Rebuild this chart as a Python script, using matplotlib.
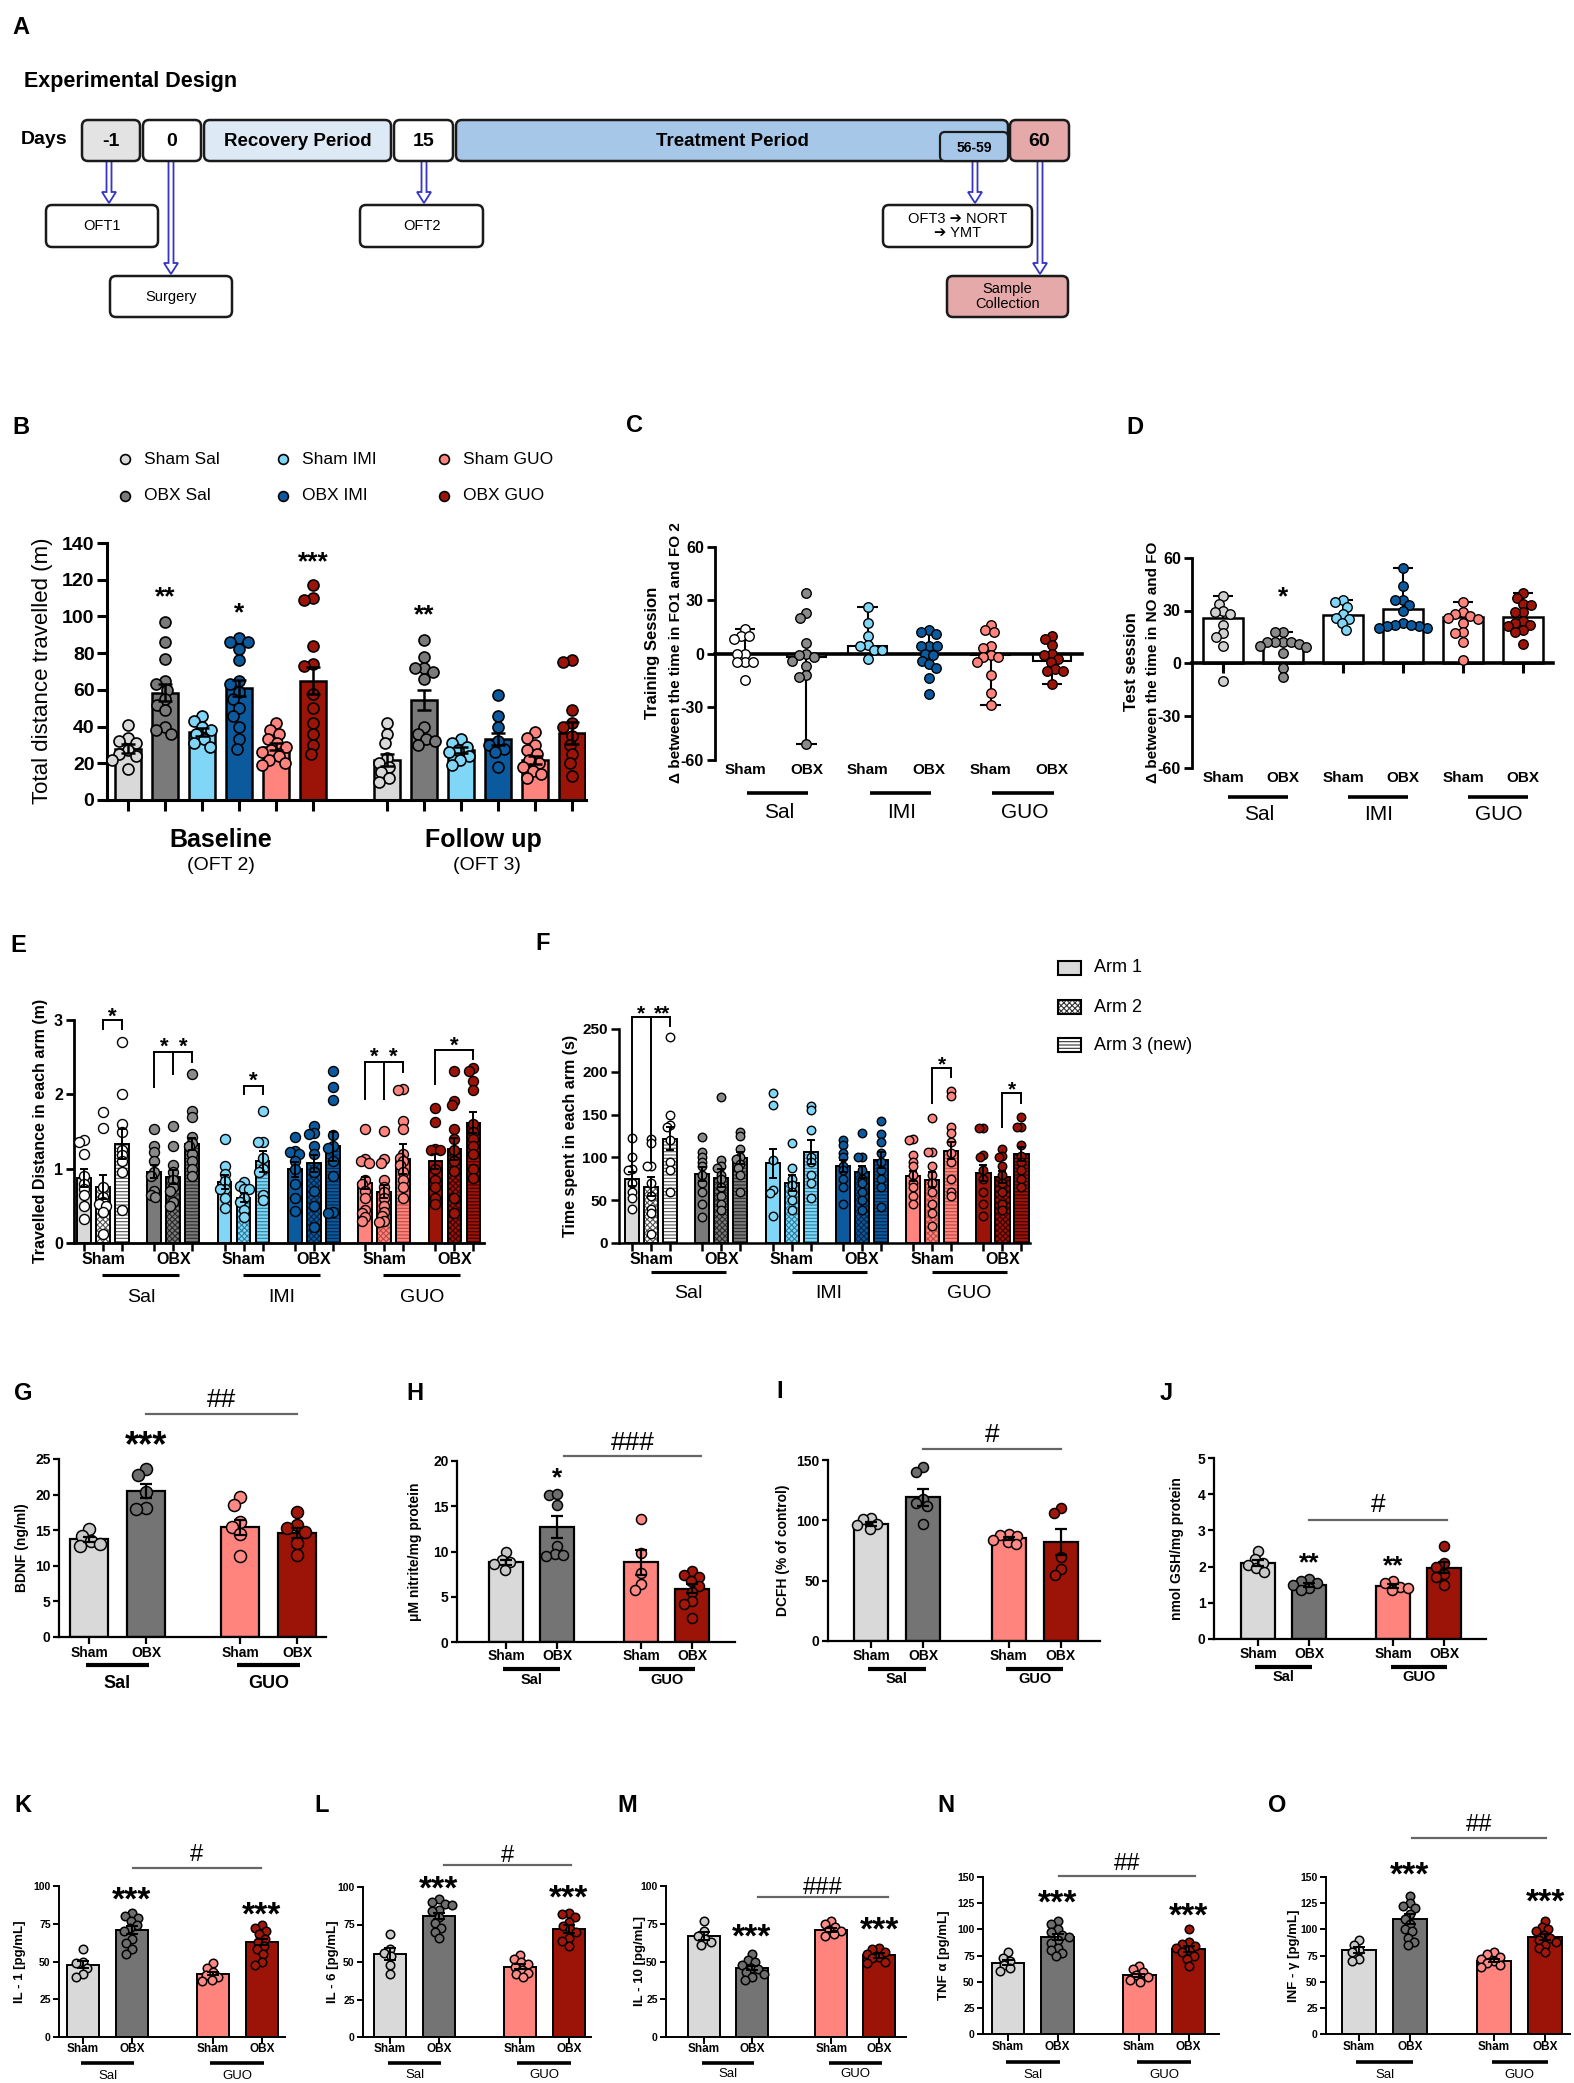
import numpy as np
import matplotlib
matplotlib.use("Agg")
import matplotlib.pyplot as plt
from matplotlib.patches import Rectangle, FancyBboxPatch, FancyArrow

W, H = 1574, 2083
SANS = ['Liberation Sans', 'DejaVu Sans']
NARROW = ['Liberation Sans Narrow', 'Liberation Sans', 'DejaVu Sans']
plt.rcParams['font.family'] = SANS
plt.rcParams['hatch.linewidth'] = 0.8

SHAM_SAL = '#d9d9d9'
OBX_SAL = '#7a7a7a'
SHAM_IMI = '#7fd6f7'
OBX_IMI = '#0b5a9e'
SHAM_GUO = '#ff847e'
OBX_GUO = '#9c1407'
GROUP_COLORS = [SHAM_SAL, OBX_SAL, SHAM_IMI, OBX_IMI, SHAM_GUO, OBX_GUO]

# ---------------- B: open field, total distance ----------------
b_groups = ['Sham Sal', 'OBX Sal', 'Sham IMI', 'OBX IMI', 'Sham GUO', 'OBX GUO']
b_means_base = [28, 58.5, 37, 61, 29, 65]
b_sems_base = [2.3, 4.5, 2.2, 4.5, 2.0, 7.5]
b_means_fu = [22, 54.5, 27, 33, 22, 36.5]
b_sems_fu = [3.3, 5.5, 1.6, 3.3, 2.2, 6.0]
b_pts_base = [
    [41, 34, 32, 31, 27, 25, 24, 22, 17],
    [97, 86, 77, 65, 63, 60, 55, 52, 49, 40, 38, 36],
    [46, 43, 40, 38, 36, 33, 31, 29],
    [88, 86, 86, 82, 76, 65, 63, 59, 55, 50, 46, 40, 33, 28],
    [42, 38, 36, 33, 31, 29, 27, 26, 24, 22, 20, 19],
    [117, 110, 109, 84, 74, 73, 58, 50, 42, 36, 30, 25],
]
b_pts_fu = [
    [42, 36, 31, 23, 20, 18, 15, 12, 10],
    [87, 78, 72, 72, 70, 66, 40, 36, 33, 32, 30],
    [33, 31, 29, 27, 26, 24, 22, 19],
    [57, 46, 40, 32, 30, 28, 26, 18],
    [37, 34, 30, 27, 25, 22, 20, 18, 16, 14, 12],
    [76, 75, 49, 42, 40, 35, 30, 25, 20, 13],
]
b_stars = [(1, '**', 115), (3, '*', 106), (5, '***', 134), (8, '**', 105)]

# ---------------- C: training session ----------------
c_median = [0, -2, 4.5, 0, -1, -4]
c_whisker = [14, -51, 26, 12, -29, -17]
c_pts = [
    [14, 10, 10, 8, 0, 0, -5, -5, -5, -15],
    [34, 23, 20, 6, 0, -1, -2, -4, -7, -12, -13, -51],
    [26, 17, 10, 5, 4, 2, 2, -3],
    [13, 12, 11, 4, 4, 4, 0, -1, -4, -6, -8, -14, -23],
    [16, 13, 12, 4, 3, -1, -2, -2, -5, -12, -22, -29],
    [10, 8, 5, 0, -1, -3, -5, -9, -10, -10, -17],
]

# ---------------- D: test session ----------------
d_median = [25.5, 11, 27.5, 31, 26.5, 26.5]
d_whisker = [38, 18, 36, 54, 35, 40]
d_pts = [
    [38, 34, 30, 29, 28, 22, 17, 15, 10, -10],
    [18, 18, 12, 12, 12, 12, 11, 10, 9, 6, -3, -8],
    [36, 35, 32, 28, 26, 25, 23, 19],
    [54, 44, 36, 36, 33, 30, 23, 22, 21, 20, 20, 21, 22],
    [35, 29, 28, 27, 26, 25, 23, 18, 17, 12, 2],
    [40, 37, 34, 33, 29, 29, 24, 23, 22, 21, 19, 18, 11],
]
d_stars = [(1, '*', 42)]

# ---------------- E: distance in each arm ----------------
e_means = [[0.88, 0.75, 1.33], [0.96, 0.89, 1.33], [0.82, 0.61, 1.10],
           [0.99, 1.07, 1.30], [0.81, 0.69, 1.13], [1.10, 1.26, 1.62]]
e_sems = [[0.12, 0.16, 0.20], [0.09, 0.09, 0.08], [0.10, 0.06, 0.14],
          [0.10, 0.12, 0.20], [0.08, 0.09, 0.20], [0.10, 0.15, 0.14]]
e_pts_sham_sal = [[1.38, 1.36, 1.2, 0.9, 0.8, 0.72, 0.65, 0.5, 0.32],
                  [1.76, 1.55, 0.75, 0.62, 0.55, 0.52, 0.5, 0.42, 0.12],
                  [2.7, 2.0, 1.6, 1.5, 1.25, 1.18, 1.1, 0.95, 0.45]]
e_pts_obx_sal = [[1.53, 1.3, 1.22, 1.1, 0.95, 0.9, 0.7, 0.65, 0.62],
                 [1.57, 1.3, 1.05, 0.95, 0.85, 0.75, 0.7, 0.55, 0.5],
                 [2.28, 1.78, 1.7, 1.43, 1.35, 1.3, 1.2, 1.1, 1.0, 0.9]]
e_pts_sham_imi = [[1.4, 1.03, 0.93, 0.83, 0.72, 0.72, 0.6, 0.47],
                  [0.82, 0.77, 0.73, 0.72, 0.6, 0.55, 0.45, 0.35],
                  [1.77, 1.36, 1.36, 1.15, 1.0, 0.95, 0.65, 0.58]]
e_pts_obx_imi = [[1.43, 1.24, 1.22, 1.2, 1.1, 1.0, 0.8, 0.6, 0.43],
                 [1.57, 1.48, 1.47, 1.3, 1.2, 0.95, 0.7, 0.5, 0.22],
                 [2.31, 2.1, 1.93, 1.45, 1.3, 1.28, 1.1, 0.9, 0.42, 0.41]]
e_pts_sham_guo = [[1.53, 1.13, 1.1, 1.08, 0.85, 0.8, 0.7, 0.6, 0.45, 0.4, 0.35, 0.3],
                  [1.51, 1.13, 1.08, 0.85, 0.75, 0.68, 0.6, 0.5, 0.42, 0.36, 0.3, 0.28],
                  [2.07, 2.06, 1.64, 1.54, 1.2, 1.15, 1.1, 1.05, 0.95, 0.85, 0.75, 0.6]]
e_pts_obx_guo = [[1.82, 1.63, 1.27, 1.25, 1.25, 1.0, 0.85, 0.75, 0.6, 0.53],
                 [2.32, 1.91, 1.85, 1.53, 1.4, 1.25, 1.1, 0.97, 0.6, 0.4],
                 [2.36, 2.32, 2.18, 2.06, 1.6, 1.5, 1.4, 1.3, 1.2, 1.0, 0.87]]
e_brackets = [([1, 2], [2.88, 2.88], 3.0),
              ([3.7, 4.7, 5.7], [2.1, 2.28, 2.44], 2.57),
              ([8.4, 9.4], [2.0, 2.0], 2.11),
              ([14.8, 15.8, 16.8], [1.94, 1.94, 2.3], 2.43),
              ([18.5, 20.5], [2.14, 2.48], 2.6)]
e_stars = [(1.5, '*', 3.14), (4.2, '*', 2.73), (5.2, '*', 2.73), (8.9, '*', 2.27),
           (15.3, '*', 2.6), (16.3, '*', 2.6), (19.5, '*', 2.74)]

# ---------------- F: time in each arm ----------------
f_means = [[75, 66, 122], [81, 76, 99], [93, 70, 106],
           [90, 83, 97], [78, 74, 108], [82, 77, 104]]
f_sems = [[8, 11, 13], [8, 10, 7], [17, 9, 14], [7, 7, 9], [6, 9, 10], [9, 7, 8]]
f_pts_sham_sal = [[123, 100, 86, 85, 70, 60, 52, 40],
                  [122, 117, 90, 90, 70, 55, 40, 35, 10],
                  [241, 149, 138, 135, 120, 95, 85, 60]]
f_pts_obx_sal = [[124, 106, 100, 95, 90, 80, 70, 60, 45, 30],
                 [170, 97, 90, 88, 80, 75, 65, 55, 45, 38],
                 [130, 125, 110, 100, 98, 92, 88, 80, 60]]
f_pts_sham_imi = [[175, 161, 97, 62, 58, 32],
                  [117, 88, 75, 68, 60, 50, 38],
                  [160, 155, 132, 100, 95, 80, 70, 52]]
f_pts_obx_imi = [[120, 115, 105, 100, 90, 85, 75, 65, 45],
                 [128, 100, 100, 85, 75, 70, 60, 50, 38],
                 [143, 127, 118, 105, 95, 85, 75, 65, 42]]
f_pts_sham_guo = [[121, 120, 103, 95, 90, 80, 70, 65, 55, 45],
                  [146, 106, 106, 90, 80, 70, 60, 45, 35, 20],
                  [178, 172, 135, 128, 118, 105, 95, 75, 60, 55]]
f_pts_obx_guo = [[134, 134, 103, 100, 85, 75, 60, 45, 32],
                 [110, 102, 100, 90, 80, 70, 60, 45, 38],
                 [147, 135, 135, 115, 102, 95, 85, 75, 65]]
f_brackets = [([0, 1, 2], [85, 93, 253], 264),
              ([15.8, 16.8], [163, 194], 205),
              ([19.5, 20.5], [135, 163], 175)]
f_stars = [(0.47, '*', 275), (1.58, '**', 275), (16.3, '*', 216), (20.0, '*', 186)]

# ---------------- G-O: biochemistry (Sham Sal, OBX Sal, Sham GUO, OBX GUO) ----------------
g_means = [13.7, 20.5, 15.4, 14.6]
g_sems = [0.4, 1.0, 1.1, 0.7]
g_pts = [[15.2, 14.2, 13.5, 13.0, 12.8], [23.6, 22.8, 20.4, 18.1, 18.0],
         [19.6, 18.5, 16.2, 15.4, 14.5, 11.4], [17.5, 15.7, 15.3, 14.8, 13.2, 11.5]]
h_means = [8.8, 12.7, 8.8, 5.9]
h_sems = [0.3, 1.2, 1.4, 0.5]
h_pts = [[9.9, 9.1, 8.8, 8.6, 8.0], [16.2, 16.3, 15.1, 10.6, 9.7, 9.5, 9.6],
         [13.6, 9.8, 7.6, 6.4, 5.8], [7.8, 7.4, 7.2, 6.7, 6.2, 5.5, 4.5, 4.2, 2.7]]
i_means = [97, 119, 85, 82]
i_sems = [2, 7, 1.5, 11]
i_pts = [[102, 101, 97, 96, 93], [144, 140, 118, 114, 112, 97],
         [89, 88, 87, 84, 82, 80], [110, 106, 70, 60, 55]]
j_means = [2.1, 1.5, 1.46, 1.97]
j_sems = [0.08, 0.05, 0.05, 0.15]
j_pts = [[2.42, 2.2, 2.1, 2.05, 1.95, 1.85], [1.65, 1.6, 1.55, 1.5, 1.4, 1.35],
         [1.6, 1.55, 1.45, 1.4, 1.35], [2.58, 2.1, 2.0, 1.8, 1.7, 1.5]]
k_means = [48, 71, 42, 63]
k_sems = [2.5, 2.5, 1.2, 2.2]
k_pts = [[58, 50, 49, 46, 42, 40], [82, 80, 79, 77, 74, 72, 70, 65, 62, 58, 55],
         [49, 46, 43, 41, 40, 38, 37], [74, 72, 70, 68, 65, 63, 60, 58, 55, 50, 48]]
l_means = [55.5, 81, 47, 72]
l_sems = [4, 2, 1.5, 2.5]
l_pts = [[69, 59, 56, 54, 48, 42], [92, 90, 89, 88, 85, 84, 80, 76, 73, 70, 66],
         [55, 52, 50, 49, 47, 45, 43, 42, 40], [83, 82, 80, 77, 74, 72, 70, 66, 64, 61]]
m_means = [67, 46, 71, 54]
m_sems = [2.5, 1.3, 1.5, 1.5]
m_pts = [[77, 70, 67, 65, 63, 61], [55, 51, 50, 48, 46, 45, 43, 42, 40, 38],
         [77, 75, 73, 71, 70, 68, 67], [59, 58, 56, 55, 53, 52, 50, 49]]
n_means = [68, 93, 56, 81]
n_sems = [2.5, 3, 1.5, 3]
n_pts = [[78, 73, 70, 66, 63, 60], [108, 105, 100, 97, 95, 93, 90, 87, 82, 80, 77, 75],
         [65, 62, 59, 56, 54, 52, 50], [100, 88, 86, 84, 82, 80, 78, 75, 72, 65]]
o_means = [80, 110, 70, 93]
o_sems = [3, 5, 1.5, 3]
o_pts = [[90, 85, 80, 78, 72, 70], [132, 125, 122, 120, 115, 110, 105, 100, 98, 92, 88, 85],
         [78, 76, 74, 72, 70, 68, 66, 64], [108, 102, 100, 98, 95, 92, 90, 88, 85, 82, 78]]

fig = plt.figure(figsize=(W / 100, H / 100), dpi=100)
ov = fig.add_axes([0, 0, 1, 1])
ov.set_xlim(0, W)
ov.set_ylim(H, 0)
ov.axis('off')


def make_panel(x0, x1, ytop, ybot, b0, step, ylim, lw=1.5):
    ax = fig.add_axes([x0 / W, 1 - ybot / H, (x1 - x0) / W, (ybot - ytop) / H])
    ax.set_xlim((x0 - b0) / step, (x1 - b0) / step)
    ax.set_ylim(*ylim)
    ax.patch.set_alpha(0)
    ax.spines[['top', 'right']].set_visible(False)
    ax.spines[['left', 'bottom']].set_linewidth(lw)
    return ax


def yfrac(ax, ypx):
    p = ax.get_position()
    return ((1 - ypx / H) - p.y0) / p.height


def xtext(ax, x, ypx, s, **kw):
    ax.text(x, yfrac(ax, ypx), s, transform=ax.get_xaxis_transform(),
            ha='center', va='center', **kw)


def xline(ax, xa, xb, ypx, lw=2.0, color='black'):
    yf = yfrac(ax, ypx)
    ax.plot([xa, xb], [yf, yf], transform=ax.get_xaxis_transform(), color=color,
            lw=lw, clip_on=False, solid_capstyle='butt')


def mark(ax, x, y, s, fs, weight='bold'):
    # y is the visual centre of the glyphs
    shift = -0.58 * fs if '*' in s else -0.36 * fs
    ax.annotate(s, (x, y), xytext=(0, shift), textcoords='offset points',
                ha='center', va='baseline', fontsize=fs, fontweight=weight,
                family=SANS, annotation_clip=False)


def swarm(ax, x, vals, d):
    vals = np.asarray(vals, dtype=float)
    disp = ax.transData.transform(np.column_stack([np.full(len(vals), x), vals]))
    ys = disp[:, 1]
    order = np.argsort(-vals, kind='stable')
    placed = []
    offs = np.zeros(len(vals))
    for i in order:
        y = ys[i]
        cands = [0.0]
        for px, py in placed:
            dy = abs(py - y)
            if dy < d:
                dx = np.sqrt(d * d - dy * dy)
                cands += [px - dx, px + dx]
        cands.sort(key=lambda c: (abs(c), c))
        for c in cands:
            if all((c - px) ** 2 + (y - py) ** 2 >= d * d - 1e-6 for px, py in placed):
                break
        placed.append((c, y))
        offs[i] = c
    back = ax.transData.inverted().transform(np.column_stack([disp[:, 0] + offs, ys]))
    return back[:, 0]


def dots(ax, x, vals, color, d, spread=0.85, lw=1.0):
    xs = swarm(ax, x, vals, d * spread)
    ax.scatter(xs, vals, s=(0.72 * d) ** 2, c=color, edgecolors='black',
               linewidths=lw, zorder=3, clip_on=False)


def style_y(ax, ticks, fs, family=SANS, lw=1.5, length=6):
    ax.set_yticks(ticks)
    ax.set_yticklabels([str(t) for t in ticks], fontsize=fs, fontweight='bold', family=family)
    ax.tick_params(axis='y', length=length, width=lw, pad=2)


def hatched_bar(ax, x, h, w, fc, hatch, hc, lw):
    ax.bar(x, h, w, color=fc, edgecolor='none', linewidth=0, zorder=2)
    if hatch:
        ax.bar(x, h, w, color='none', edgecolor=hc, hatch=hatch, linewidth=0, zorder=2.1)
    ax.bar(x, h, w, color='none', edgecolor='black', linewidth=lw, zorder=2.2)


def bracket(ax, legs, bottoms, top, lw=1.4):
    ax.plot([min(legs), max(legs)], [top, top], color='black', lw=lw, zorder=5, clip_on=False)
    for x, b in zip(legs, bottoms):
        ax.plot([x, x], [b, top], color='black', lw=lw, zorder=5, clip_on=False)


def letter(x, y, s):
    ov.text(x, y, s, fontsize=17, fontweight='bold', ha='left', va='center')


# ================= A: experimental design =================
letter(12, 27, 'A')
ov.text(24, 82, 'Experimental Design', fontsize=15.5, fontweight='bold', va='center')
ov.text(21, 140, 'Days', fontsize=14, fontweight='bold', va='center')
timeline = [(81, 141, '-1', '#e3e3e3', 14), (142, 202, '0', 'white', 14),
            (203, 392, 'Recovery Period', '#dde9f5', 13.5), (393, 454, '15', 'white', 14),
            (455, 1009, 'Treatment Period', '#a7c7e8', 13.5), (1009, 1070, '60', '#e6a9a9', 14)]
for x0, x1, lab, fc, fs in timeline:
    ov.add_patch(FancyBboxPatch((x0 + 1, 120), x1 - x0 - 2, 41,
                                boxstyle='round,pad=0,rounding_size=6',
                                fc=fc, ec='#1a1a1a', lw=1.8, zorder=2))
    ov.text((x0 + x1) / 2, 141, lab, fontsize=fs, fontweight='bold',
            ha='center', va='center', zorder=4)
ov.add_patch(FancyBboxPatch((940, 132), 68, 29, boxstyle='round,pad=0,rounding_size=5',
                            fc='#a7c7e8', ec='#1a1a1a', lw=1.6, zorder=3))
ov.text(974, 148, '56-59', fontsize=10, fontweight='bold', ha='center', va='center', zorder=4)
for x, y0, y1 in [(109, 161, 203), (171, 161, 274), (424, 161, 203), (975, 161, 203), (1040, 161, 274)]:
    ov.add_patch(FancyArrow(x, y0, 0, y1 - y0, width=5, head_width=14, head_length=11,
                            length_includes_head=True, fc='white', ec='#3434c8', lw=1.3, zorder=1))
detail_boxes = [(46, 158, 205, 247, 'OFT1', 'white'), (110, 232, 276, 317, 'Surgery', 'white'),
                (360, 483, 205, 247, 'OFT2', 'white'),
                (883, 1032, 205, 247, 'OFT3 \u2794 NORT\n\u2794 YMT', 'white'),
                (947, 1068, 276, 317, 'Sample\nCollection', '#e6a9a9')]
for x0, x1, y0, y1, lab, fc in detail_boxes:
    ov.add_patch(FancyBboxPatch((x0, y0), x1 - x0, y1 - y0, boxstyle='round,pad=0,rounding_size=6',
                                fc=fc, ec='#1a1a1a', lw=1.8, zorder=2))
    ov.text((x0 + x1) / 2, (y0 + y1) / 2, lab, fontsize=10.5, ha='center', va='center',
            linespacing=1.0, family=['Liberation Sans', 'DejaVu Sans'], zorder=4)

# ================= B =================
letter(12, 427, 'B')
leg_x = [125, 283, 444]
for i, (name, col) in enumerate(zip(b_groups, GROUP_COLORS)):
    cx = leg_x[i // 2]
    cy = [459, 496][i % 2]
    ov.scatter([cx], [cy], s=50, c=col, edgecolors='black', linewidths=1.2, zorder=3)
    ov.text(cx + 19, cy, name, fontsize=12.5, va='center')

axB = make_panel(107, 586, 543, 800, 128, 37, (0, 140), lw=2.2)
xb_base = np.arange(6)
xb_fu = np.arange(7, 13)
for xs, means, sems, pts in [(xb_base, b_means_base, b_sems_base, b_pts_base),
                             (xb_fu, b_means_fu, b_sems_fu, b_pts_fu)]:
    axB.bar(xs, means, 0.7, color=GROUP_COLORS, edgecolor='black', linewidth=1.8, zorder=2)
    for x, v, c in zip(xs, pts, GROUP_COLORS):
        dots(axB, x, v, c, 11, lw=1.2)
    axB.errorbar(xs, means, yerr=sems, fmt='none', ecolor='black', elinewidth=1.8,
                 capsize=5, capthick=1.8, zorder=4)
style_y(axB, list(range(0, 141, 20)), 14, lw=2.2, length=7)
axB.set_xticks(np.concatenate([xb_base, xb_fu]))
axB.tick_params(axis='x', length=8, width=2.2, labelbottom=False)
for x, s, y in b_stars:
    mark(axB, x, y, s, 19)
xtext(axB, 2.5, 840, 'Baseline', fontsize=18, fontweight='bold')
xtext(axB, 2.5, 866, '(OFT 2)', fontsize=14)
xtext(axB, 9.6, 840, 'Follow up', fontsize=18, fontweight='bold')
xtext(axB, 9.7, 866, '(OFT 3)', fontsize=14)
ov.text(43, 671, 'Total distance travelled (m)', rotation=90, fontsize=16, ha='center', va='center')

# ================= C =================
letter(626, 425, 'C')
axC = make_panel(715, 1082, 547, 760, 745, 61.4, (-60, 60), lw=2)
axC.spines['bottom'].set_position(('data', 0))
axC.spines['bottom'].set_linewidth(2.6)
axC.set_xticks([])
c_pt_colors = ['white', '#8a8a8a', SHAM_IMI, OBX_IMI, SHAM_GUO, OBX_GUO]
axC.bar(range(6), c_median, 0.63, color='white', edgecolor='black', linewidth=1.5, zorder=2)
for i in range(6):
    axC.vlines(i, c_median[i], c_whisker[i], color='black', lw=1.5, zorder=2.5)
    axC.hlines(c_whisker[i], i - 0.17, i + 0.17, color='black', lw=1.5, zorder=2.5)
    dots(axC, i, c_pts[i], c_pt_colors[i], 9.5)
style_y(axC, [-60, -30, 0, 30, 60], 11.5, lw=2, length=6)
for i in range(6):
    xtext(axC, i, 770, ['Sham', 'OBX'][i % 2], fontsize=11, fontweight='bold')
for p, name in enumerate(['Sal', 'IMI', 'GUO']):
    xline(axC, 2 * p + 0.03, 2 * p + 1.03, 793, lw=2.6)
    xtext(axC, 2 * p + 0.55, 812, name, fontsize=15)
ov.text(653, 653, 'Training Session', rotation=90, fontsize=12, fontweight='bold', ha='center', va='center')
ov.text(676, 653, '\u0394 between the time in FO1 and FO 2', rotation=90, fontsize=11,
        fontweight='bold', ha='center', va='center')

# ================= D =================
letter(1126, 427, 'D')
axD = make_panel(1192, 1553, 558, 768, 1223, 60, (-60, 60), lw=2)
axD.spines['bottom'].set_position(('data', 0))
axD.spines['bottom'].set_linewidth(2.6)
d_pt_colors = ['#d0d0d0', '#8a8a8a', SHAM_IMI, OBX_IMI, SHAM_GUO, OBX_GUO]
axD.bar(range(6), d_median, 0.67, color='white', edgecolor='black', linewidth=1.8, zorder=2)
for i in range(6):
    axD.vlines(i, d_median[i], d_whisker[i], color='black', lw=1.5, zorder=2.5)
    axD.hlines(d_whisker[i], i - 0.17, i + 0.17, color='black', lw=1.5, zorder=2.5)
    dots(axD, i, d_pts[i], d_pt_colors[i], 9.5)
style_y(axD, [-60, -30, 0, 30, 60], 11.5, lw=2, length=6)
axD.set_xticks(range(6))
axD.tick_params(axis='x', length=7, width=2.2, labelbottom=False)
for x, s, y in d_stars:
    mark(axD, x, y, s, 19)
for i in range(6):
    xtext(axD, i, 778, ['Sham', 'OBX'][i % 2], fontsize=11, fontweight='bold')
for p, name in enumerate(['Sal', 'IMI', 'GUO']):
    xline(axD, 2 * p + 0.08, 2 * p + 1.08, 797, lw=2.6)
    xtext(axD, 2 * p + 0.6, 815, name, fontsize=15)
ov.text(1132, 662, 'Test session', rotation=90, fontsize=12, fontweight='bold', ha='center', va='center')
ov.text(1153, 662, '\u0394 between the time in NO and FO', rotation=90, fontsize=11,
        fontweight='bold', ha='center', va='center')

# ================= E and F =================
GSTEP = 3.7
ARM_HATCH = [None, 'xxxxxx', '-----']
HATCH_COLORS = ['#555555', '#2a2a2a', '#2b7f9e', '#04264a', '#b94a44', '#3a0000']
ARM_PT_COLORS = ['white', '#8a8a8a', SHAM_IMI, OBX_IMI, SHAM_GUO, OBX_GUO]


def arm_panel(ax, means, sems, groups, d, barw):
    for g in range(6):
        for a in range(3):
            x = g * GSTEP + a
            fc = 'white' if (g == 0 and a > 0) else GROUP_COLORS[g]
            hatched_bar(ax, x, means[g][a], barw, fc, ARM_HATCH[a], HATCH_COLORS[g], 1.4)
            dots(ax, x, groups[g][a], ARM_PT_COLORS[g], d, spread=0.5)
            ax.errorbar(x, means[g][a], yerr=sems[g][a], fmt='none', ecolor='black',
                        elinewidth=1.4, capsize=3, capthick=1.4, zorder=4)
    ax.set_xticks([g * GSTEP + a for g in range(6) for a in range(3)])
    ax.tick_params(axis='x', length=6, width=1.8, labelbottom=False)


letter(10, 945, 'E')
axE = make_panel(74, 484, 1020, 1243, 84, 19, (0, 3), lw=2)
arm_panel(axE, e_means, e_sems, [e_pts_sham_sal, e_pts_obx_sal, e_pts_sham_imi,
                                 e_pts_obx_imi, e_pts_sham_guo, e_pts_obx_guo], 10, 0.72)
style_y(axE, [0, 1, 2, 3], 11.5, lw=2, length=6)
for legs, bottoms, top in e_brackets:
    bracket(axE, legs, bottoms, top)
for x, s, y in e_stars:
    mark(axE, x, y, s, 16)
for g in range(6):
    xtext(axE, g * GSTEP + 1, 1260, ['Sham', 'OBX'][g % 2], fontsize=11.5, fontweight='bold')
for p, name in enumerate(['Sal', 'IMI', 'GUO']):
    xline(axE, 2 * p * GSTEP + 0.95, 2 * p * GSTEP + GSTEP + 1.3, 1275, lw=2.2)
    xtext(axE, 2 * p * GSTEP + 3.0, 1298, name, fontsize=14)
ov.text(41, 1131, 'Travelled Distance in each arm (m)', rotation=90, fontsize=11.5,
        fontweight='bold', ha='center', va='center')

letter(535, 943, 'F')
axF = make_panel(619, 1030, 1029, 1243, 632, 19, (0, 250), lw=1.8)
arm_panel(axF, f_means, f_sems, [f_pts_sham_sal, f_pts_obx_sal, f_pts_sham_imi,
                                 f_pts_obx_imi, f_pts_sham_guo, f_pts_obx_guo], 8.5, 0.74)
style_y(axF, [0, 50, 100, 150, 200, 250], 11, lw=1.8, length=6)
for legs, bottoms, top in f_brackets:
    bracket(axF, legs, bottoms, top)
for x, s, y in f_stars:
    mark(axF, x, y, s, 15)
for g in range(6):
    xtext(axF, g * GSTEP + 1, 1260, ['Sham', 'OBX'][g % 2], fontsize=11.5, fontweight='bold')
for p, name in enumerate(['Sal', 'IMI', 'GUO']):
    xline(axF, 2 * p * GSTEP + 1.0, 2 * p * GSTEP + GSTEP + 1.25, 1272, lw=2.2)
    xtext(axF, 2 * p * GSTEP + 2.95, 1293, name, fontsize=14)
ov.text(571, 1136, 'Time spent in each arm (s)', rotation=90, fontsize=11.5,
        fontweight='bold', ha='center', va='center')
arm_names = ['Arm 1', 'Arm 2', 'Arm 3 (new)']
for a, (name, yc) in enumerate(zip(arm_names, [968, 1007, 1045])):
    ov.add_patch(Rectangle((1058, yc - 7), 23, 14, fc='#d9d9d9' if a == 0 else 'white', ec='none', zorder=2))
    if ARM_HATCH[a]:
        ov.add_patch(Rectangle((1058, yc - 7), 23, 14, fc='none', ec='#333333',
                               hatch=ARM_HATCH[a], lw=0, zorder=2.1))
    ov.add_patch(Rectangle((1058, yc - 7), 23, 14, fc='none', ec='black', lw=1.5, zorder=2.2))
    ov.text(1094, yc, name, fontsize=13, va='center')

# ================= G-O =================
XPOS4 = [0, 1, 2.65, 3.65]
SMALL_COLORS = [SHAM_SAL, '#747474', SHAM_GUO, OBX_GUO]
SMALL_PT_COLORS = ['#c8c8c8', '#6e6e6e', '#ff8a85', '#a3170b']
small_cfgs = [
    dict(let='G', lpos=(14, 1393), box=(59, 326, 1459, 1637), b0=89, step=57, ylim=(0, 25),
         yticks=[0, 5, 10, 15, 20, 25], ylab='BDNF (ng/ml)', ylx=22, means=g_means, sems=g_sems,
         pts=g_pts, row=1, gfs=13, labdy=(16, 28, 46), hsh='##', hx=(1.0, 3.65), hline=31.3,
         htext=33.7, stars=[(1, '***', 28.4)], d=12),
    dict(let='H', lpos=(406, 1393), box=(457, 735, 1461, 1642), b0=506, step=51, ylim=(0, 20),
         yticks=[0, 5, 10, 15, 20], ylab='\u03bcM nitrite/mg protein', ylx=415, means=h_means,
         sems=h_sems, pts=h_pts, row=1, gfs=10.5, labdy=(14, 27, 38), hsh='###', hx=(1.14, 3.82),
         hline=20.55, htext=22.3, stars=[(1, '*', 19.0)], d=10),
    dict(let='I', lpos=(776, 1392), box=(828, 1100, 1460, 1641), b0=871, step=52, ylim=(0, 150),
         yticks=[0, 50, 100, 150], ylab='DCFH (% of control)', ylx=783, means=i_means,
         sems=i_sems, pts=i_pts, row=1, gfs=10.5, labdy=(15, 28, 38), hsh='#', hx=(1.0, 3.65),
         hline=159, htext=173, stars=[], d=10),
    dict(let='J', lpos=(1160, 1393), box=(1214, 1486, 1458, 1639), b0=1258, step=51, ylim=(0, 5),
         yticks=[0, 1, 2, 3, 4, 5], ylab='nmol GSH/mg protein', ylx=1177, means=j_means,
         sems=j_sems, pts=j_pts, row=1, gfs=10.5, labdy=(15, 28, 38), hsh='#', hx=(1.0, 3.7),
         hline=3.29, htext=3.76, stars=[(1, '**', 2.33), (2.65, '**', 2.24)], d=10),
    dict(let='K', lpos=(14, 1805), box=(59, 285, 1886, 2037), b0=83, step=49, ylim=(0, 100),
         yticks=[0, 25, 50, 75, 100], ylab='IL - 1 [pg/mL]', ylx=20, means=k_means, sems=k_sems,
         pts=k_pts, row=2, gfs=9.5, labdy=(12, 26, 39), hsh='#', hx=(1.02, 3.63), hline=112,
         htext=122.5, stars=[(1, '***', 97.4), (3.65, '***', 87.4)], d=8.5),
    dict(let='L', lpos=(314, 1805), box=(363, 591, 1887, 2037), b0=390, step=49, ylim=(0, 100),
         yticks=[0, 25, 50, 75, 100], ylab='IL - 6 [pg/mL]', ylx=333, means=l_means, sems=l_sems,
         pts=l_pts, row=2, gfs=9.5, labdy=(12, 26, 38), hsh='#', hx=(1.1, 3.7), hline=115,
         htext=122.5, stars=[(1, '***', 105), (3.65, '***', 99.3)], d=8.5),
    dict(let='M', lpos=(617, 1805), box=(666, 906, 1886, 2037), b0=704, step=48, ylim=(0, 100),
         yticks=[0, 25, 50, 75, 100], ylab='IL - 10 [pg/mL]', ylx=640, means=m_means, sems=m_sems,
         pts=m_pts, row=2, gfs=9.5, labdy=(12, 26, 37), hsh='###', hx=(1.12, 3.83), hline=92.7,
         htext=100.6, stars=[(1, '***', 72.5), (3.65, '***', 77.5)], d=8.5),
    dict(let='N', lpos=(937, 1805), box=(983, 1219, 1877, 2034), b0=1008, step=49.5, ylim=(0, 150),
         yticks=[0, 25, 50, 75, 100, 125, 150], ylab='TNF \u03b1 [pg/mL]', ylx=944, means=n_means,
         sems=n_sems, pts=n_pts, row=2, gfs=9.5, labdy=(13, 28, 41), hsh='##', hx=(1.03, 3.78),
         hline=151, htext=165, stars=[(1, '***', 134.7), (3.65, '***', 122.3)], d=8.5),
    dict(let='O', lpos=(1268, 1805), box=(1326, 1570, 1877, 2034), b0=1359, step=51, ylim=(0, 150),
         yticks=[0, 25, 50, 75, 100, 125, 150], ylab='INF - \u03b3 [pg/mL]', ylx=1294, means=o_means,
         sems=o_sems, pts=o_pts, row=2, gfs=9.5, labdy=(13, 28, 41), hsh='##', hx=(1.04, 3.67),
         hline=187, htext=202.5, stars=[(1, '***', 161), (3.65, '***', 135)], d=8.5),
]

for cfg in small_cfgs:
    x0, x1, yt, yb = cfg['box']
    row1 = cfg['row'] == 1
    lw = 1.6 if row1 else 1.4
    ax = make_panel(x0, x1, yt, yb, cfg['b0'], cfg['step'], cfg['ylim'], lw=lw)
    ax.bar(XPOS4, cfg['means'], 0.66, color=SMALL_COLORS, edgecolor='black', linewidth=lw, zorder=2)
    for x, v, c in zip(XPOS4, cfg['pts'], SMALL_PT_COLORS):
        dots(ax, x, v, c, cfg['d'], lw=1.1)
    ax.errorbar(XPOS4, cfg['means'], yerr=cfg['sems'], fmt='none', ecolor='black',
                elinewidth=lw, capsize=4, capthick=lw, zorder=4)
    style_y(ax, cfg['yticks'], 10 if row1 else 7.5, family=NARROW, lw=lw, length=4)
    ax.set_xticks(XPOS4)
    ax.tick_params(axis='x', length=5, width=lw, labelbottom=False)
    dy1, dy2, dy3 = cfg['labdy']
    for x, s in zip(XPOS4, ['Sham', 'OBX', 'Sham', 'OBX']):
        xtext(ax, x, yb + dy1, s, fontsize=10 if row1 else 8.5, fontweight='bold', family=NARROW)
    for xa, name in [(0, 'Sal'), (2.65, 'GUO')]:
        xline(ax, xa - 0.05, xa + 1.05, yb + dy2, lw=3.0 if row1 else 2.6)
        xtext(ax, xa + 0.5, yb + dy3, name, fontsize=cfg['gfs'],
              fontweight='bold' if row1 else 'normal', family=NARROW)
    ha, hb = cfg['hx']
    ax.plot([ha, hb], [cfg['hline'], cfg['hline']], color='#666666', lw=1.6, clip_on=False, zorder=5)
    mark(ax, (ha + hb) / 2, cfg['htext'], cfg['hsh'], 19 if row1 else 17, weight='normal')
    for x, s, y in cfg['stars']:
        if s == '***':
            fs = 26 if row1 else 24
        else:
            fs = 19 if row1 else 22
        mark(ax, x, y, s, fs)
    letter(cfg['lpos'][0], cfg['lpos'][1], cfg['let'])
    ov.text(cfg['ylx'], (yt + yb) / 2, cfg['ylab'], rotation=90, fontsize=10 if row1 else 9.5,
            fontweight='bold', ha='center', va='center', family=NARROW)

fig.savefig('out.png', dpi=100)
